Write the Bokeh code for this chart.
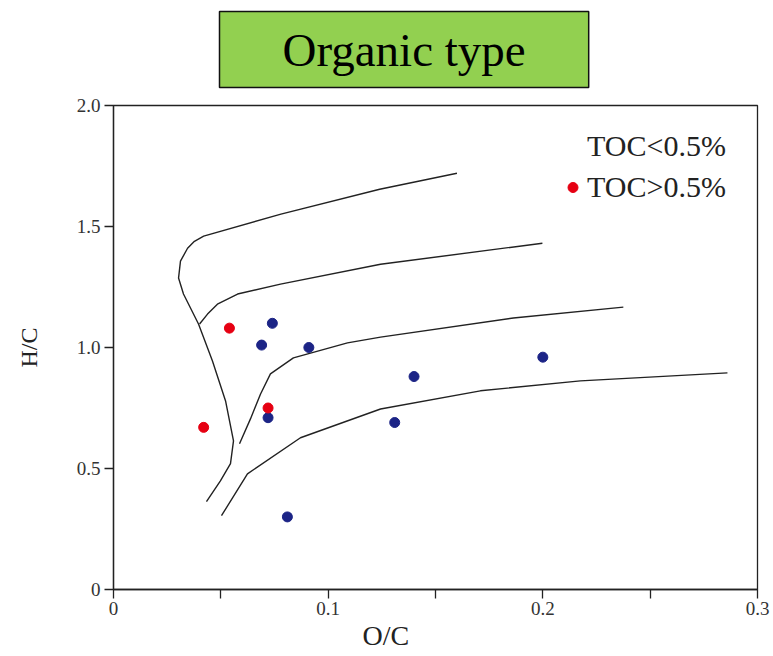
from bokeh.plotting import figure
from bokeh.models import Range1d, FixedTicker, Legend, LegendItem, Title
from bokeh.embed import file_html
from bokeh.resources import INLINE

# ---- data ----
blue_x = [0.074, 0.069, 0.091, 0.140, 0.200, 0.072, 0.131, 0.081]
blue_y = [1.10, 1.01, 1.00, 0.88, 0.96, 0.71, 0.69, 0.30]
red_x = [0.054, 0.072, 0.042]
red_y = [1.08, 0.75, 0.67]

c1_x = [0.160, 0.124, 0.078, 0.042, 0.0377, 0.0345, 0.0312, 0.0303, 0.0326, 0.0396, 0.0461, 0.0522, 0.0559, 0.0545, 0.0498, 0.0433]
c1_y = [1.720, 1.654, 1.551, 1.460, 1.439, 1.410, 1.357, 1.287, 1.221, 1.097, 0.944, 0.779, 0.614, 0.520, 0.449, 0.363]
c2_x = [0.1998, 0.1244, 0.0778, 0.0578, 0.0484, 0.0438, 0.0401]
c2_y = [1.431, 1.344, 1.262, 1.221, 1.179, 1.138, 1.097]
c3_x = [0.2375, 0.1863, 0.1244, 0.1090, 0.0838, 0.0731, 0.0685, 0.0638, 0.0587]
c3_y = [1.167, 1.122, 1.043, 1.019, 0.957, 0.891, 0.808, 0.705, 0.602]
c4_x = [0.2860, 0.2175, 0.1709, 0.1244, 0.0871, 0.0624, 0.0503]
c4_y = [0.895, 0.862, 0.821, 0.746, 0.627, 0.478, 0.305]

x_ticks = [0, 0.1, 0.2, 0.3]
x_minor = [0.05, 0.15, 0.25]
x_labels = {0: "0", 0.1: "0.1", 0.2: "0.2", 0.3: "0.3"}
y_ticks = [0, 0.5, 1.0, 1.5, 2.0]
y_labels = {0: "0", 0.5: "0.5", 1: "1.0", 1.5: "1.5", 2: "2.0"}

SERIF = "Liberation Serif"

p = figure(width=773, height=656, output_backend="svg", toolbar_location=None,
           x_range=Range1d(0, 0.3), y_range=Range1d(0, 2.0),
           min_border_left=113, min_border_right=16, min_border_top=104, min_border_bottom=67)
p.grid.visible = False
p.outline_line_color = "#222222"
p.outline_line_width = 1.3
p.background_fill_color = "white"
p.border_fill_color = "white"

for ax in (p.xaxis[0], p.yaxis[0]):
    ax.axis_line_color = "#222222"
    ax.axis_line_width = 1.3
    ax.major_tick_line_color = "#222222"
    ax.major_tick_line_width = 1.3
    ax.minor_tick_line_color = "#222222"
    ax.minor_tick_line_width = 1.3
    ax.major_tick_in = 0
    ax.major_tick_out = 9
    ax.minor_tick_in = 0
    ax.minor_tick_out = 9
    ax.major_label_text_font = SERIF
    ax.major_label_text_font_size = "19px"
    ax.major_label_text_color = "#333333"
    ax.axis_label_text_font = SERIF
    ax.axis_label_text_font_style = "normal"
    ax.axis_label_text_color = "#222222"

p.xaxis.ticker = FixedTicker(ticks=x_ticks, minor_ticks=x_minor)
p.xaxis.major_label_overrides = x_labels
p.xaxis.major_label_standoff = 3

p.yaxis.ticker = FixedTicker(ticks=y_ticks, minor_ticks=[])
p.yaxis.major_label_overrides = y_labels
p.yaxis.axis_label = "H/C"
p.yaxis.axis_label_text_font_size = "24px"
p.yaxis.major_label_standoff = 4
p.yaxis.axis_label_standoff = 32

# x axis label, placed left of centre as in the original
xlab = Title(text="O/C", align="left", offset=249, text_font=SERIF, text_font_size="28px",
             text_font_style="normal", text_color="#222222", standoff=0)
p.add_layout(xlab, "below")

for cx, cy in ((c1_x, c1_y), (c2_x, c2_y), (c3_x, c3_y), (c4_x, c4_y)):
    p.line(cx, cy, line_color="#222222", line_width=1.4, line_join="round")

blue = p.scatter(blue_x, blue_y, size=10, marker="circle", fill_color="#1c2486", line_color="#1c2486")
red = p.scatter(red_x, red_y, size=10, marker="circle", fill_color="#e60012", line_color="#e60012")
dummy = p.scatter([], [], size=10, marker="circle", fill_alpha=0, line_alpha=0)

legend = Legend(items=[LegendItem(label="TOC<0.5%", renderers=[dummy]),
                       LegendItem(label="TOC>0.5%", renderers=[red])],
                location=(447, 385))
legend.label_text_font = SERIF
legend.label_text_font_size = "30px"
legend.label_text_color = "#222222"
legend.glyph_width = 25
legend.glyph_height = 30
legend.label_height = 30
legend.spacing = 7
legend.padding = 0
legend.margin = 0
legend.label_standoff = 2
legend.border_line_color = None
legend.background_fill_alpha = 0
p.add_layout(legend, "center")

# small spacer between the title box and the frame
spacer = Title(text=" ", text_font_size="1px", standoff=6)
p.add_layout(spacer, "above")

t = p.title
t.text = "Organic type"
t.align = "left"
t.offset = 106
t.vertical_align = "bottom"
t.text_font = SERIF
t.text_font_size = "47px"
t.text_font_style = "normal"
t.text_color = "black"
t.background_fill_color = "#92d050"
t.border_line_color = "#111111"
t.border_line_width = 1.5
t.standoff = 18
try:
    t.padding = (63, 12)
except Exception:
    pass

open("out.html", "w").write(file_html(p, INLINE))
